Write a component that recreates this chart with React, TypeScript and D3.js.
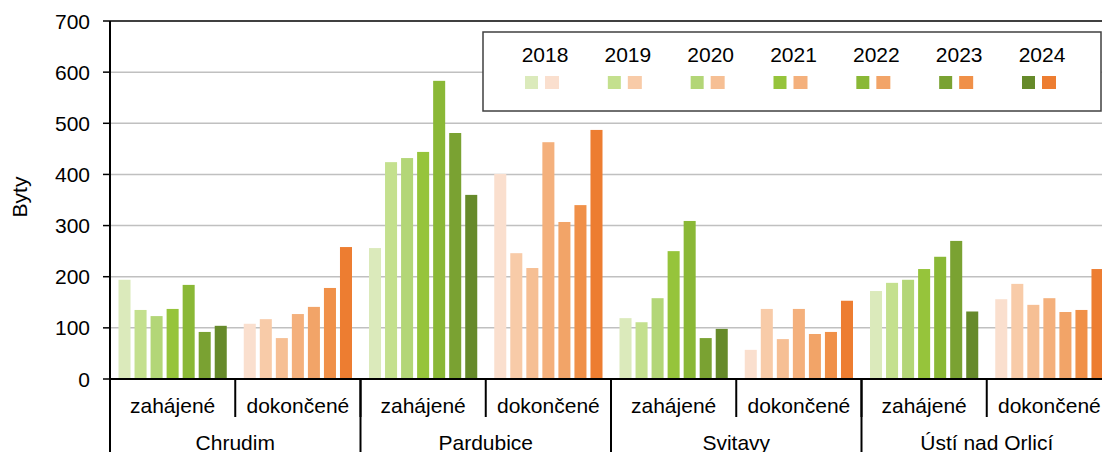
import React from "react";
import * as d3 from "d3";

const years = ["2018", "2019", "2020", "2021", "2022", "2023", "2024"];
const districts = ["Chrudim", "Pardubice", "Svitavy", "Ústí nad Orlicí"];
const types = ["zahájené", "dokončené"];

// values per district, 2018..2024
const started = [
  [194, 135, 123, 137, 184, 92, 104],
  [256, 424, 432, 444, 583, 481, 360],
  [119, 111, 158, 250, 309, 80, 98],
  [172, 188, 194, 215, 239, 270, 132],
];
const completed = [
  [108, 117, 80, 127, 141, 178, 258],
  [401, 246, 217, 463, 307, 340, 487],
  [57, 137, 78, 137, 88, 92, 153],
  [156, 186, 145, 158, 131, 135, 215],
];

const greens = ["#dbeabb", "#c4e08e", "#b3d677", "#96c43b", "#8ab836", "#7aa232", "#668a2a"];
const oranges = ["#fadfce", "#f8cba8", "#f6bf94", "#f4b07c", "#f2a468", "#f09048", "#ed7d31"];

const yTicks = [0, 100, 200, 300, 400, 500, 600, 700];

const W = 1102;
const H = 452;
const left = 110;
const right = 1112;
const top = 21;
const bottom = 379;
const font = "'Liberation Sans', Arial, sans-serif";
const fs = 21;

export default function App() {
  const y = d3.scaleLinear().domain([0, 700]).range([bottom, top]);
  const groups = districts.flatMap((d) => types.map((t) => `${d}|${t}`));
  const x = d3.scaleBand().domain(groups).range([left, right]);
  const xd = d3.scaleBand().domain(districts).range([left, right]);
  const xi = d3
    .scaleBand()
    .domain(years)
    .range([0, x.bandwidth()])
    .paddingInner(0.25)
    .paddingOuter(0.53);

  const legendX = d3.scalePoint().domain(years).range([545, 1042]);

  return (
    <svg
      width={W}
      height={H}
      style={{ position: "absolute", left: 0, top: 0, fontFamily: font }}
    >
      <rect width={W} height={H} fill="#fff" />
      {yTicks.slice(1, -1).map((t) => (
        <line key={t} x1={left} x2={W} y1={y(t)} y2={y(t)} stroke="#c0c0c0" strokeWidth={1.5} />
      ))}
      <line x1={left} x2={W} y1={top} y2={top} stroke="#000" strokeWidth={1.5} />

      {districts.map((d, di) =>
        types.map((t, ti) => {
          const vals = ti === 0 ? started[di] : completed[di];
          const cols = ti === 0 ? greens : oranges;
          const gx = x(`${d}|${t}`)!;
          return vals.map((v, yi) => (
            <rect
              key={`${d}-${t}-${yi}`}
              x={gx + xi(years[yi])!}
              y={y(v)}
              width={xi.bandwidth()}
              height={y(0) - y(v)}
              fill={cols[yi]}
            />
          ));
        })
      )}

      {/* y axis */}
      <line x1={left} x2={left} y1={top} y2={H} stroke="#000" strokeWidth={2} />
      {yTicks.map((t) => (
        <g key={t}>
          <line x1={left - 7} x2={left} y1={y(t)} y2={y(t)} stroke="#000" strokeWidth={1.5} />
          <text x={90} y={y(t)} dy="0.36em" textAnchor="end" fontSize={fs} fill="#000">
            {t}
          </text>
        </g>
      ))}
      <text
        transform={`translate(27,197) rotate(-90)`}
        textAnchor="middle"
        fontSize={fs}
        fill="#000"
      >
        Byty
      </text>

      {/* x axis */}
      <line x1={left} x2={W} y1={bottom} y2={bottom} stroke="#000" strokeWidth={2} />
      {groups.map((g) => {
        const gx = x(g)!;
        const t = g.split("|")[1];
        return (
          <g key={g}>
            <line x1={gx + x.bandwidth()} x2={gx + x.bandwidth()} y1={bottom} y2={417} stroke="#000" strokeWidth={2} />
            <text x={gx + x.bandwidth() / 2} y={413} textAnchor="middle" fontSize={fs} fill="#000">
              {t}
            </text>
          </g>
        );
      })}
      {districts.map((d) => (
        <g key={d}>
          <line x1={xd(d)! + xd.bandwidth()} x2={xd(d)! + xd.bandwidth()} y1={bottom} y2={H} stroke="#000" strokeWidth={2} />
          <text x={xd(d)! + xd.bandwidth() / 2} y={450} textAnchor="middle" fontSize={fs} fill="#000">
            {d}
          </text>
        </g>
      ))}

      {/* legend */}
      <rect x={483} y={32} width={618} height={79} fill="#fff" stroke="#404040" strokeWidth={1.5} />
      {years.map((yr, i) => {
        const cx = legendX(yr)!;
        return (
          <g key={yr}>
            <text x={cx} y={62} textAnchor="middle" fontSize={fs} fill="#000">
              {yr}
            </text>
            <rect x={cx - 20} y={76} width={13} height={13} fill={greens[i]} />
            <rect x={cx} y={76} width={14} height={13} fill={oranges[i]} />
          </g>
        );
      })}
    </svg>
  );
}
